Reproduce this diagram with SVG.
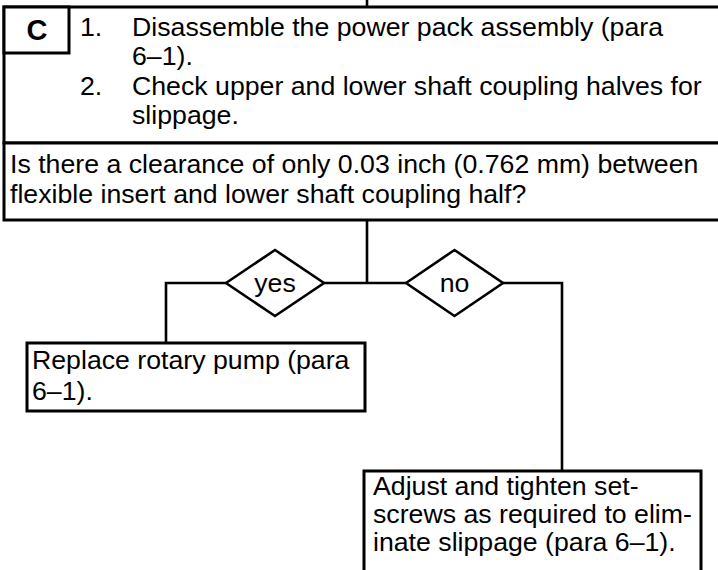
<svg xmlns="http://www.w3.org/2000/svg" width="718" height="570" viewBox="0 0 718 570">
<style>
.box{fill:#fff;stroke:#000;stroke-width:3}
.con{fill:none;stroke:#000;stroke-width:2.6}
.dia{fill:#fff;stroke:#000;stroke-width:2.6}
text{font-family:"Liberation Sans",Arial,Helvetica,sans-serif;font-size:26.7px;fill:#000}
.c{font-weight:bold;font-size:29px}
.m{text-anchor:middle}
</style>
<rect width="718" height="570" fill="#fff"/>
<g id="connectors">
<line class="con" x1="367" y1="0" x2="367" y2="8"/>
<line class="con" x1="367" y1="220" x2="367" y2="283"/>
<polyline class="con" points="226,283 166,283 166,343"/>
<line class="con" x1="324" y1="283" x2="406" y2="283"/>
<polyline class="con" points="503,283 562,283 562,471"/>
</g>
<g id="steps">
<rect class="box" x="4" y="7" width="720" height="136"/>
<text x="80" y="36">1.</text>
<text x="132" y="36">Disassemble the power pack assembly (para</text>
<text x="132" y="65">6–1).</text>
<text x="80" y="95">2.</text>
<text x="132" y="95">Check upper and lower shaft coupling halves for</text>
<text x="132" y="124">slippage.</text>
</g>
<g id="label-c">
<rect class="box" x="4" y="7" width="65" height="46"/>
<text class="c m" x="37" y="40">C</text>
</g>
<g id="question">
<rect class="box" x="4" y="143" width="720" height="77"/>
<text x="10" y="173">Is there a clearance of only 0.03 inch (0.762 mm) between</text>
<text x="10" y="203">flexible insert and lower shaft coupling half?</text>
</g>
<g id="yes">
<polygon class="dia" points="226,283 275,250 324,283 275,316"/>
<text class="m" x="275" y="292">yes</text>
</g>
<g id="no">
<polygon class="dia" points="406,283 454.5,250 503,283 454.5,316"/>
<text class="m" x="454.5" y="292">no</text>
</g>
<g id="replace">
<rect class="box" x="27" y="343" width="338" height="68"/>
<text x="32" y="369">Replace rotary pump (para</text>
<text x="32" y="400">6–1).</text>
</g>
<g id="adjust">
<rect class="box" x="364" y="471" width="337" height="110"/>
<text x="373" y="495">Adjust and tighten set-</text>
<text x="373" y="523">screws as required to elim-</text>
<text x="373" y="551">inate slippage (para 6–1).</text>
</g>
</svg>
